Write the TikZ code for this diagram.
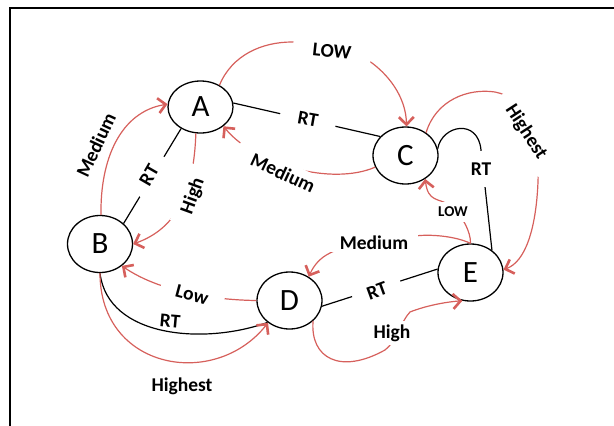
\documentclass[tikz,border=0pt]{standalone}
\usepackage{fontspec}
\setmainfont{Carlito}
\usetikzlibrary{shapes.geometric,arrows.meta}
\definecolor{redl}{RGB}{214,96,92}
\begin{document}
\begin{tikzpicture}[x=1pt,y=-1pt,
  state/.style={ellipse,draw,line width=1.3pt,minimum width=65pt,minimum height=57pt,inner sep=0pt,font=\fontsize{31}{31}\selectfont},
  lbl/.style={font=\fontsize{19.5}{19.5}\selectfont\bfseries,inner sep=2pt},
  smalllbl/.style={font=\fontsize{15}{15}\selectfont\bfseries},
  gap/.style={fill=white},
  blk/.style={line width=1.2pt},
  rarrow/.style={draw=redl,line width=1.2pt,-{Straight Barb[length=7.5pt,width=15pt,line width=2.6pt]}}]
\useasboundingbox (0,0) rectangle (614,426);
\draw[line width=2.2pt] (10,426) -- (10,8) -- (614,8);

\node[state,minimum height=52pt] (A) at (200.5,107) {A};
\node[state] (B) at (100,244) {B};
\node[state] (C) at (405.5,155.5) {C};
\node[state] (D) at (289.5,300.5) {D};
\node[state] (E) at (470.5,272.5) {E};

% black RT connectors
\draw[blk] (A.7) -- (C.143);
\draw[blk] (A.228) -- (B.41);
\draw[blk] (C.12) .. controls (442,125) and (478,118) .. (481,150) -- (E.46);
\draw[blk] (B.270) .. controls (108,338) and (205,345) .. (D.225);
\draw[blk] (D.350) -- (E.174);

% red transitions
\draw[rarrow] (A.49) .. controls (232,55) and (262,42) .. (292,42) .. controls (325,42) and (355,52) .. (372,63) .. controls (392,78) and (406,100) .. (C.88);
\draw[rarrow] (C.201) .. controls (332,186) and (255,165) .. (A.320);
\draw[rarrow] (B.88) .. controls (100,160) and (120,112) .. (A.175);
\draw[rarrow] (A.260) .. controls (194,190) and (178,228) .. (B.0);
\draw[rarrow] (C.48) .. controls (436,100) and (468,88) .. (495,92) .. controls (525,97) and (540,140) .. (538,182) .. controls (536,230) and (525,262) .. (E.5);
\draw[rarrow] (E.90) .. controls (471,232) and (462,215) .. (450,205) .. controls (438,198) and (428,202) .. (C.310);
\draw[rarrow] (E.90) .. controls (455,236) and (430,234) .. (415,236) .. controls (380,240) and (345,245) .. (330,253) .. controls (320,258) and (314,265) .. (D.51);
\draw[rarrow] (D.319) .. controls (310,358) and (340,375) .. (385,350) .. controls (395,343) and (402,320) .. (410,312) .. controls (425,306) and (445,302) .. (E.254);
\draw[rarrow] (D.180) .. controls (215,300) and (160,292) .. (B.315);
\draw[rarrow] (B.270) .. controls (100,370) and (215,390) .. (D.226);

% labels
\node[lbl,gap,rotate=-6,inner xsep=20pt,inner ysep=4pt] (lLOW1) at (332,51) {LOW};
\node[lbl,gap,rotate=-10,inner xsep=18pt] (lRT1) at (308,119) {RT};
\node[lbl,gap,rotate=-25,inner xsep=17pt,inner ysep=5pt] (lMed1) at (283,173) {Medium};
\node[lbl,rotate=65] (lMed2) at (96,145) {Medium};
\node[lbl,gap,rotate=60,inner xsep=13pt] (lRT2) at (149,175) {RT};
\node[lbl,gap,rotate=70,inner xsep=12pt,inner ysep=5pt] (lHigh1) at (193,196) {High};
\node[lbl,gap,rotate=-57,inner xsep=14pt,inner ysep=6pt] (lHst1) at (526,132) {Highest};
\node[lbl,gap,inner ysep=12pt,inner xsep=3pt] (lRT3) at (481,169) {RT};
\node[lbl,smalllbl,gap,inner xsep=6pt,inner ysep=5pt] (lLOW2) at (453,212) {LOW};
\node[lbl,gap,inner xsep=10pt] (lMed3) at (374,243) {Medium};
\node[lbl,gap,rotate=20,inner xsep=15pt] (lRT4) at (377,291) {RT};
\node[lbl,gap,inner sep=4pt] (lHigh2) at (392,333) {High};
\node[lbl,gap,rotate=-15,inner xsep=16pt] (lLow) at (192,295) {Low};
\node[lbl,rotate=-5] (lRT5) at (170,321) {RT};
\node[lbl] (lHst2) at (182,386) {Highest};
\end{tikzpicture}
\end{document}
